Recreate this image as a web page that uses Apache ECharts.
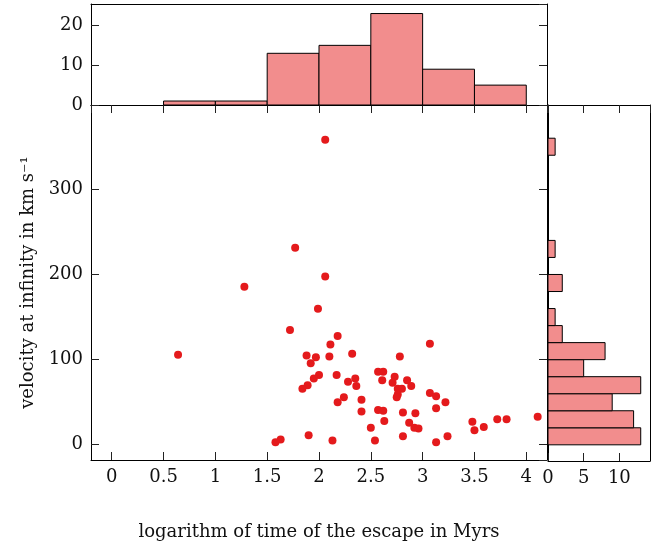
<!DOCTYPE html>
<html>
<head>
<meta charset="utf-8">
<script src="https://cdn.jsdelivr.net/npm/echarts@6/dist/echarts.min.js"></script>
<style>
  html, body { margin: 0; padding: 0; background: #fff; }
  #chart { width: 668px; height: 546px; }
</style>
</head>
<body>
<div id="chart"></div>
<script>
// scatter: log time of escape (Myr) vs velocity at infinity (km/s)
var logTime = [2.06, 1.77, 2.06, 1.28, 1.99, 1.72, 0.64, 2.18, 2.11, 3.07, 2.32, 1.88, 1.97, 2.10,
  2.78, 1.92, 2.57, 2.62, 2.00, 2.17, 1.95, 2.35, 2.73, 2.61, 2.85, 2.28, 2.71, 1.89, 2.36, 2.89,
  1.84, 2.76, 2.80, 2.76, 2.75, 3.07, 3.13, 2.24, 2.41, 2.18, 3.22, 3.13, 2.57, 2.62, 2.41, 2.81,
  2.93, 2.63, 2.87, 3.48, 3.72, 3.81, 4.11, 3.59, 3.50, 2.50, 2.92, 2.96, 1.90, 2.81, 3.24, 1.63,
  1.58, 2.13, 2.54, 3.13];
var velocity = [358, 231, 197, 185, 159, 134, 105, 127, 117, 118, 106, 104, 102, 103,
  103, 95, 85, 85, 81, 81, 77, 77, 79, 75, 75, 73, 72, 69, 68, 68,
  65, 65, 65, 58, 55, 60, 56, 55, 52, 49, 49, 42, 40, 39, 38, 37,
  36, 27, 25, 26, 29, 29, 32, 20, 16, 19, 19, 18, 10, 9, 9, 5,
  2, 4, 4, 2];

// top histogram (log time)
var timeEdges = [0.5, 1, 1.5, 2, 2.5, 3, 3.5, 4];
var timeCounts = [1, 1, 13, 15, 23, 9, 5];

// right histogram (velocity), bins of 20 km/s from 0 to 360
var velEdges = [0, 20, 40, 60, 80, 100, 120, 140, 160, 180, 200, 220, 240, 260, 280, 300, 320, 340, 360];
var velCounts = [13, 12, 9, 13, 5, 8, 2, 1, 0, 2, 0, 1, 0, 0, 0, 0, 0, 1];

var scatterData = logTime.map(function (t, i) { return [t, velocity[i]]; });
var topData = timeCounts.map(function (c, i) { return [timeEdges[i], timeEdges[i + 1], c]; });
var rightData = velCounts.map(function (c, i) { return [velEdges[i], velEdges[i + 1], c]; })
  .filter(function (d) { return d[2] > 0; });

var font = 'DejaVu Serif';
var txtC = '#111';
var barFill = '#f28d8d';

function lineOnly() {
  return { show: true, onZero: false, lineStyle: { color: '#000', width: 1 } };
}
function ticksIn() {
  return { show: true, inside: true, length: 8, lineStyle: { color: '#222', width: 1 } };
}
function labels(showMin) {
  return { show: true, color: txtC, fontFamily: font, fontSize: 18, margin: 8,
    showMinLabel: showMin, showMaxLabel: false };
}

var myChart = echarts.init(document.getElementById('chart'));
var option = {
  animation: false,
  grid: [
    { left: 91, top: 105, width: 456, height: 356 },
    { left: 91, top: 4, width: 456, height: 101 },
    { left: 548, top: 105, width: 102, height: 356 }
  ],
  xAxis: [
    { type: 'value', gridIndex: 0, position: 'bottom', min: -0.2, max: 4.2, minInterval: 0.5, maxInterval: 0.5,
      axisLine: lineOnly(), axisTick: ticksIn(), axisLabel: labels(false), splitLine: { show: false },
      name: 'logarithm of time of the escape in Myrs', nameLocation: 'middle', nameGap: 63,
      nameTextStyle: { color: txtC, fontFamily: font, fontSize: 18 } },
    { type: 'value', gridIndex: 0, position: 'top', min: -0.2, max: 4.2, minInterval: 0.5, maxInterval: 0.5,
      axisLine: lineOnly(), axisTick: ticksIn(), axisLabel: { show: false }, splitLine: { show: false } },
    { type: 'value', gridIndex: 1, position: 'bottom', min: -0.2, max: 4.2,
      axisLine: lineOnly(), axisTick: { show: false }, axisLabel: { show: false }, splitLine: { show: false } },
    { type: 'value', gridIndex: 1, position: 'top', min: -0.2, max: 4.2,
      axisLine: lineOnly(), axisTick: { show: false }, axisLabel: { show: false }, splitLine: { show: false } },
    { type: 'value', gridIndex: 2, position: 'bottom', min: 0, max: 14.3, interval: 5,
      axisLine: lineOnly(), axisTick: ticksIn(), axisLabel: labels(true), splitLine: { show: false } },
    { type: 'value', gridIndex: 2, position: 'top', min: 0, max: 14.3, interval: 5,
      axisLine: lineOnly(), axisTick: ticksIn(), axisLabel: { show: false }, splitLine: { show: false } }
  ],
  yAxis: [
    { type: 'value', gridIndex: 0, position: 'left', min: -19, max: 399, minInterval: 100, maxInterval: 100,
      axisLine: lineOnly(), axisTick: ticksIn(), axisLabel: labels(false), splitLine: { show: false },
      name: 'velocity at infinity in km s\u207B\u00B9', nameLocation: 'middle', nameGap: 54,
      nameTextStyle: { color: txtC, fontFamily: font, fontSize: 18 } },
    { type: 'value', gridIndex: 0, position: 'right', min: -19, max: 399, minInterval: 100, maxInterval: 100,
      axisLine: lineOnly(), axisTick: ticksIn(), axisLabel: { show: false }, splitLine: { show: false } },
    { type: 'value', gridIndex: 1, position: 'left', min: 0, max: 25.4, interval: 10,
      axisLine: lineOnly(), axisTick: ticksIn(), axisLabel: labels(true), splitLine: { show: false } },
    { type: 'value', gridIndex: 1, position: 'right', min: 0, max: 25.4, interval: 10,
      axisLine: lineOnly(), axisTick: ticksIn(), axisLabel: { show: false }, splitLine: { show: false } },
    { type: 'value', gridIndex: 2, position: 'left', min: -19, max: 399,
      axisLine: lineOnly(), axisTick: { show: false }, axisLabel: { show: false }, splitLine: { show: false } },
    { type: 'value', gridIndex: 2, position: 'right', min: -19, max: 399,
      axisLine: lineOnly(), axisTick: { show: false }, axisLabel: { show: false }, splitLine: { show: false } }
  ],
  series: [
    {
      type: 'scatter', xAxisIndex: 0, yAxisIndex: 0,
      symbol: 'circle', symbolSize: 8,
      itemStyle: { color: '#e41a1c', opacity: 1 },
      data: scatterData
    },
    {
      type: 'custom', xAxisIndex: 2, yAxisIndex: 2,
      renderItem: function (params, api) {
        var p0 = api.coord([api.value(0), api.value(2)]);
        var p1 = api.coord([api.value(1), 0]);
        return { type: 'rect',
          shape: { x: p0[0], y: p0[1], width: p1[0] - p0[0], height: p1[1] - p0[1] },
          style: { fill: barFill, stroke: '#000', lineWidth: 1 } };
      },
      encode: { x: [0, 1], y: 2 },
      data: topData
    },
    {
      type: 'custom', xAxisIndex: 4, yAxisIndex: 4,
      renderItem: function (params, api) {
        var p0 = api.coord([0, api.value(1)]);
        var p1 = api.coord([api.value(2), api.value(0)]);
        return { type: 'rect',
          shape: { x: p0[0], y: p0[1], width: p1[0] - p0[0], height: p1[1] - p0[1] },
          style: { fill: barFill, stroke: '#000', lineWidth: 1 } };
      },
      encode: { x: 2, y: [0, 1] },
      data: rightData
    }
  ]
};
myChart.setOption(option);
window.addEventListener('resize', function () { myChart.resize(); });
</script>
</body>
</html>
